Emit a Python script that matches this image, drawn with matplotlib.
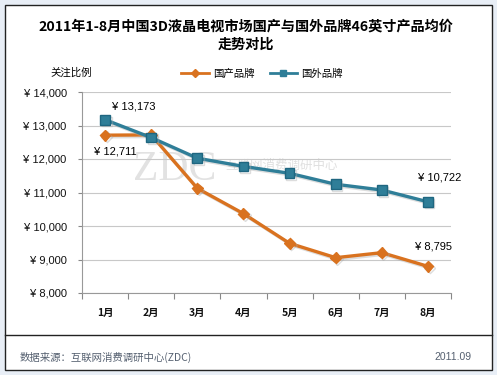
import matplotlib
matplotlib.use("Agg")
import matplotlib.pyplot as plt
from matplotlib.patches import Rectangle
from matplotlib.lines import Line2D
import matplotlib.patheffects as pe

plt.rcParams['font.family'] = ['Liberation Sans', 'Noto Sans CJK SC', 'DejaVu Sans']

months = ['1月', '2月', '3月', '4月', '5月', '6月', '7月', '8月']
domestic = [12711, 12720, 11125, 10370, 9483, 9054, 9204, 8795]
foreign = [13173, 12640, 12025, 11780, 11573, 11245, 11075, 10722]
yticks = [8000, 9000, 10000, 11000, 12000, 13000, 14000]

c_dom = '#D9721F'
c_for = '#2F7E98'

fig = plt.figure(figsize=(4.97, 3.75), dpi=100)
fig.patch.set_facecolor('#E8EEF6')

# white framed panel
fig.patches.append(Rectangle((5/497, 1-370/375), 487/497, 365/375, transform=fig.transFigure,
                             facecolor='white', edgecolor='#222222', linewidth=1.0, zorder=-5))
fig.lines.append(Line2D([5/497, 492/497], [1-335/375, 1-335/375], transform=fig.transFigure,
                        color='#222222', linewidth=1.0, zorder=-4))

# watermark
fig.text(175/497, 1-170/375, 'ZDC', fontsize=30, color='#E2E2E2', ha='center', va='center',
         family=['Liberation Serif'], zorder=-3)
fig.text(225/497, 1-165/375, '互联网消费调研中心', fontsize=9, color='#E0E0E0', ha='left', va='center',
         family=['Noto Sans CJK SC'], zorder=-3)

ax = fig.add_axes([82/497, 1-293/375, 369/497, 201/375])
ax.set_facecolor('none')
x = [i + 0.5 for i in range(len(months))]

shadow = [pe.SimpleLineShadow(offset=(1.2, -1.2), shadow_color='#aaaaaa', alpha=0.4), pe.Normal()]
ax.plot(x, domestic, color=c_dom, linewidth=2.4, marker='D', markersize=5.5,
        markerfacecolor=c_dom, markeredgecolor=c_dom, zorder=4, path_effects=shadow)
ax.plot(x, foreign, color=c_for, linewidth=2.4, marker='s', markersize=7,
        markerfacecolor=c_for, markeredgecolor='#1f6680', zorder=5, path_effects=shadow)

ax.set_xlim(0, 8)
ax.set_ylim(8000, 14000)
ax.set_yticks(yticks)
ax.set_yticklabels(['¥ {:,}'.format(v) for v in yticks], fontsize=8, color='#111111')
ax.yaxis.grid(True, color='#C8C8C8', linewidth=0.8)
ax.set_axisbelow(True)
ax.set_xticks(range(0, 9))
ax.set_xticklabels([])
ax.set_xticks(x, minor=True)
ax.set_xticklabels(months, minor=True, fontsize=7.5, color='#111111', fontweight='bold',
                   family=['Noto Sans CJK SC'])
ax.tick_params(axis='x', which='minor', length=0, pad=11)
ax.tick_params(axis='x', which='major', length=4, color='#888888', direction='out')
ax.tick_params(axis='y', length=3, color='#888888', pad=8)
for s in ['top', 'right']:
    ax.spines[s].set_visible(False)
ax.spines['left'].set_color('#999999')
ax.spines['bottom'].set_color('#999999')

# data labels
ax.annotate('¥ {:,}'.format(foreign[0]), (x[0], foreign[0]), xytext=(5, 6),
            textcoords='offset points', fontsize=8, ha='left', va='bottom')
ax.annotate('¥ {:,}'.format(domestic[0]), (x[0], domestic[0]), xytext=(-8, -8),
            textcoords='offset points', fontsize=8, ha='left', va='top')
ax.annotate('¥ {:,}'.format(foreign[-1]), (x[-1], foreign[-1]), xytext=(-7, 14),
            textcoords='offset points', fontsize=8, ha='left', va='bottom')
ax.annotate('¥ {:,}'.format(domestic[-1]), (x[-1], domestic[-1]), xytext=(-9, 11),
            textcoords='offset points', fontsize=8, ha='left', va='bottom')

# titles
fig.text(246/497, 1-27/375, '2011年1-8月中国3D液晶电视市场国产与国外品牌46英寸产品均价',
         fontsize=10.2, fontweight='bold', ha='center', va='center', family=['Noto Sans CJK SC'])
fig.text(246/497, 1-45/375, '走势对比', fontsize=10.2, fontweight='bold', ha='center', va='center',
         family=['Noto Sans CJK SC'])
fig.text(50/497, 1-73/375, '关注比例', fontsize=7.5, ha='left', va='center', family=['Noto Sans CJK SC'])

# legend
h1 = Line2D([], [], color=c_dom, linewidth=2, marker='D', markersize=4)
h2 = Line2D([], [], color=c_for, linewidth=2, marker='s', markersize=5)
fig.legend([h1, h2], ['国产品牌', '国外品牌'], loc='center', bbox_to_anchor=(262/497, 1-74/375),
           ncol=2, frameon=False, prop={'family': 'Noto Sans CJK SC', 'size': 7.5},
           handlelength=2.6, columnspacing=1.5, handletextpad=0.4)

# footer
fig.text(20/497, 1-357/375, '数据来源：互联网消费调研中心(ZDC)', fontsize=7.5, color='#556070',
         ha='left', va='center', family=['Noto Sans CJK SC'])
fig.text(472/497, 1-357/375, '2011.09', fontsize=7.5, color='#556070', ha='right', va='center')

fig.savefig('out.png', dpi=100, facecolor=fig.get_facecolor())
